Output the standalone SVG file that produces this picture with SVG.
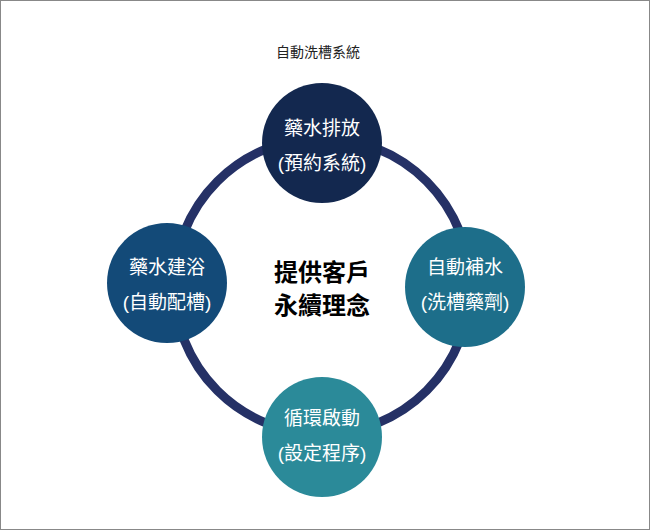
<svg xmlns="http://www.w3.org/2000/svg" width="650" height="530" viewBox="0 0 650 530">
<style>
text{font-family:"Liberation Sans","Noto Sans CJK TC",sans-serif;text-anchor:middle}
.n{fill:#fff;font-size:19px}
.c{font-size:24px;font-weight:bold;fill:#000}
</style>
<rect x="0.5" y="0.5" width="649" height="529" fill="#fff" stroke="#888"/>
<text x="318" y="57" font-size="14" fill="#222">自動洗槽系統</text>
<g id="connectors"><circle cx="322" cy="286" r="148" fill="none" stroke="#253166" stroke-width="9"/></g>
<g id="top"><circle cx="322" cy="143" r="60" fill="#13284f"/><text class="n" x="322" y="135">藥水排放</text><text class="n" x="322" y="170">(預約系統)</text></g>
<g id="left"><circle cx="167" cy="283" r="60" fill="#134a78"/><text class="n" x="167" y="274">藥水建浴</text><text class="n" x="167" y="309">(自動配槽)</text></g>
<g id="right"><circle cx="465" cy="287" r="60" fill="#1d6e8a"/><text class="n" x="465" y="274">自動補水</text><text class="n" x="465" y="309">(洗槽藥劑)</text></g>
<g id="bottom"><circle cx="322" cy="437" r="60" fill="#2b8a99"/><text class="n" x="322" y="425">循環啟動</text><text class="n" x="322" y="460">(設定程序)</text></g>
<g id="center"><text class="c" x="322" y="281">提供客戶</text><text class="c" x="322" y="314">永續理念</text></g>
</svg>
